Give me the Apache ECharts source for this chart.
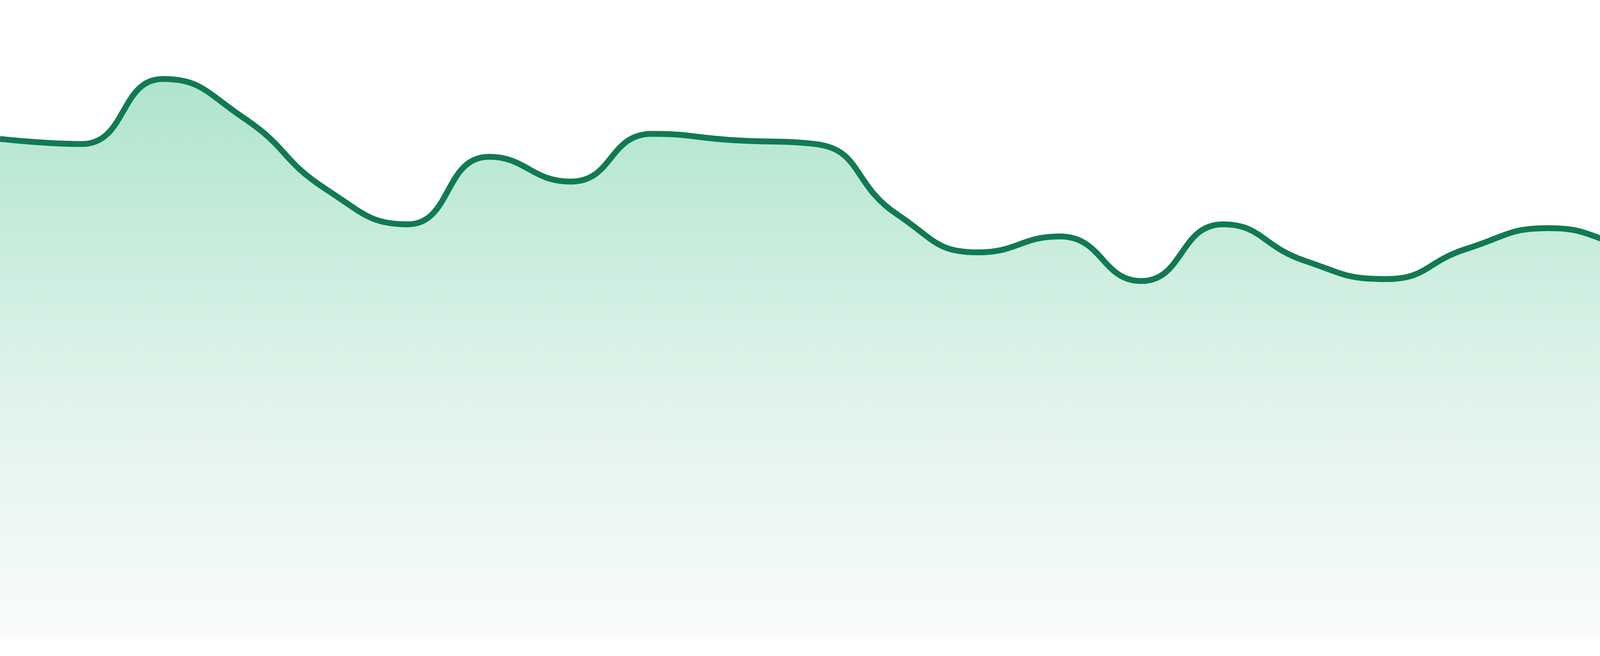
<!DOCTYPE html>
<html>
<head>
<meta charset="utf-8">
<title>trend</title>
<script src="https://cdn.jsdelivr.net/npm/echarts@6/dist/echarts.min.js"></script>
<style>
  html, body { margin: 0; padding: 0; background: #ffffff; }
  #main { width: 4800px; height: 1680px; }
</style>
</head>
<body>
<div id="main"></div>
<script>
// hourly points, axis hidden
const hours = ['00:00', '01:00', '02:00', '03:00', '04:00', '05:00', '06:00', '07:00',
  '08:00', '09:00', '10:00', '11:00', '12:00', '13:00', '14:00', '15:00',
  '16:00', '17:00', '18:00', '19:00', '20:00', '21:00', '22:00', '23:00'];

const values = [78.2, 77.4, 87.6, 81.4, 70.3, 64.8, 75.4, 71.5,
  79.0, 78.0, 77.4, 66.4, 60.4, 62.9, 55.9, 64.8,
  59.1, 56.2, 61.0, 64.2, 61.2, 58.7, 63.1, 62.8];

const yMin = 0;
const yMax = 100;

const chart = echarts.init(document.getElementById('main'));

// everything hidden, just the area line
const option = {
  backgroundColor: '#ffffff',
  animation: false,
  grid: {
    left: 0,
    right: 0,
    top: 0,
    bottom: 48
  },
  xAxis: {
    type: 'category',
    data: hours,
    boundaryGap: false,
    show: false
  },
  yAxis: {
    type: 'value',
    min: yMin,
    max: yMax,
    show: false,
    splitLine: { show: false }
  },
  series: [{
    type: 'line',
    data: values,
    smooth: true,
    symbol: 'none',
    lineStyle: {
      color: '#117a52',
      width: 15
    },
    areaStyle: {
      opacity: 1,
      color: new echarts.graphic.LinearGradient(0, 0, 0, 1, [
        { offset: 0, color: '#afe4cf' },
        { offset: 0.55, color: '#dff3ea' },
        { offset: 0.84, color: '#f0f9f5' },
        { offset: 1, color: '#fafcfb' }
      ])
    }
  }]
};

chart.setOption(option);
</script>
</body>
</html>
